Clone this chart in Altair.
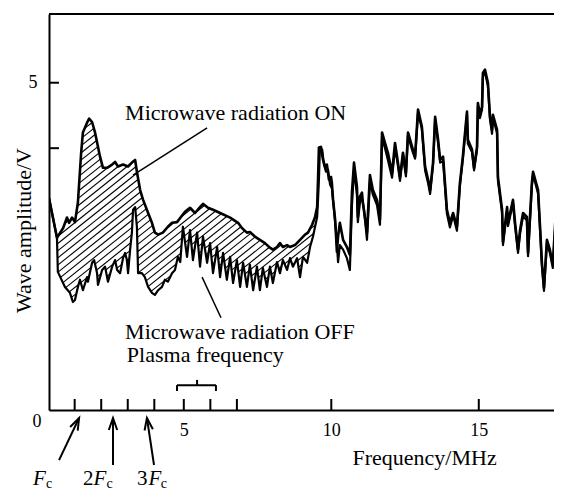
import math
import altair as alt
import numpy as np
import pandas as pd

FONT = "Liberation Serif"

# (frequency / MHz, amplitude / V)
on_points = [
    (0.43, 3.24), (0.70, 2.63), (0.91, 2.78), (1.04, 2.94), (1.11, 2.86), (1.21, 2.94),
    (1.31, 2.87), (1.41, 3.17), (1.52, 3.93), (1.58, 4.24), (1.72, 4.39), (1.79, 4.45),
    (1.89, 4.40), (1.99, 4.24), (2.16, 3.87), (2.26, 3.70), (2.40, 3.70), (2.57, 3.75),
    (2.67, 3.79), (2.77, 3.72), (2.94, 3.75), (3.11, 3.72), (3.24, 3.78), (3.35, 3.82),
    (3.41, 3.64), (3.52, 3.36), (3.62, 3.21), (3.79, 3.01), (3.92, 2.86), (4.02, 2.71),
    (4.13, 2.68), (4.29, 2.71), (4.46, 2.80), (4.60, 2.86), (4.77, 2.87), (5.04, 3.03),
    (5.21, 3.09), (5.38, 3.01), (5.55, 3.10), (5.65, 3.15), (5.82, 3.09), (5.99, 3.06),
    (6.23, 3.01), (6.57, 2.94), (6.84, 2.86), (6.97, 2.78), (7.14, 2.71), (7.24, 2.72),
    (7.41, 2.65), (7.58, 2.60), (7.75, 2.55), (7.92, 2.48), (8.02, 2.45), (8.16, 2.49),
    (8.26, 2.55), (8.36, 2.49), (8.50, 2.52), (8.60, 2.49), (8.77, 2.52), (8.94, 2.60),
    (9.11, 2.68), (9.21, 2.71), (9.35, 2.83), (9.45, 2.95), (9.52, 3.10), (9.55, 3.52),
    (9.58, 4.01), (9.65, 4.02), (9.72, 3.82), (9.79, 3.72), (9.85, 3.75), (9.92, 3.52),
    (9.99, 3.56), (10.02, 3.47), (10.06, 3.21), (10.13, 2.91), (10.19, 2.42), (10.23, 2.65),
    (10.29, 2.86), (10.40, 2.60), (10.53, 2.49), (10.63, 2.37), (10.70, 3.32), (10.77, 3.78),
    (10.87, 3.41), (10.90, 2.95), (10.97, 3.26), (11.04, 3.32), (11.07, 3.17), (11.21, 2.71),
    (11.31, 3.59), (11.41, 3.36), (11.55, 3.21), (11.65, 2.91), (11.72, 4.24), (11.82, 4.08),
    (11.92, 3.93), (12.06, 3.62), (12.16, 4.08), (12.23, 3.87), (12.33, 3.56), (12.43, 3.93),
    (12.53, 3.62), (12.60, 4.24), (12.74, 4.02), (12.84, 3.87), (12.94, 4.59), (13.07, 4.33),
    (13.18, 3.72), (13.28, 3.52), (13.35, 3.36), (13.45, 3.78), (13.52, 4.48), (13.62, 4.13),
    (13.69, 3.82), (13.79, 3.87), (13.92, 3.06), (14.02, 2.86), (14.13, 3.01), (14.26, 2.80),
    (14.36, 3.47), (14.46, 3.87), (14.60, 4.56), (14.63, 4.13), (14.77, 3.98), (14.84, 3.70),
    (14.94, 4.02), (14.97, 4.69), (15.04, 4.51), (15.11, 4.63), (15.14, 5.15), (15.21, 5.20),
    (15.31, 5.00), (15.38, 4.48), (15.45, 4.28), (15.48, 4.51), (15.62, 4.28), (15.65, 3.56),
    (15.79, 3.06), (15.82, 2.57), (15.96, 3.10), (15.99, 2.86), (16.16, 3.21), (16.23, 2.86),
    (16.33, 2.45), (16.40, 2.75), (16.50, 3.01), (16.63, 2.95), (16.67, 2.40), (16.80, 3.47),
    (16.84, 3.64), (17.01, 3.36), (17.07, 2.86), (17.14, 2.25), (17.21, 1.87), (17.31, 2.60),
    (17.41, 2.45), (17.51, 2.22), (17.65, 3.32),
]

off_points = [
    (0.43, 3.24), (0.70, 2.63), (0.73, 2.11), (0.97, 1.88), (1.14, 1.79), (1.24, 1.65),
    (1.31, 1.68), (1.41, 1.88), (1.48, 1.99), (1.58, 1.83), (1.72, 2.03), (1.75, 1.96),
    (1.89, 2.25), (1.96, 2.29), (2.06, 2.09), (2.09, 1.91), (2.23, 2.14), (2.33, 2.19),
    (2.43, 1.96), (2.57, 2.19), (2.67, 2.29), (2.74, 2.14), (2.84, 2.09), (2.94, 2.32),
    (3.01, 2.40), (3.07, 2.29), (3.11, 2.09), (3.18, 2.45), (3.24, 2.71), (3.28, 3.06),
    (3.35, 3.10), (3.41, 2.80), (3.45, 2.09), (3.58, 2.09), (3.68, 2.03), (3.79, 1.88),
    (3.92, 1.79), (4.02, 1.76), (4.13, 1.83), (4.26, 1.88), (4.36, 1.99), (4.46, 1.96),
    (4.60, 2.09), (4.70, 2.14), (4.80, 2.34), (4.88, 2.26), (4.97, 2.80), (5.11, 2.34),
    (5.21, 2.75), (5.31, 2.29), (5.45, 2.71), (5.55, 2.19), (5.65, 2.65), (5.79, 2.25),
    (5.89, 2.55), (5.99, 2.09), (6.13, 2.49), (6.23, 2.03), (6.33, 2.40), (6.46, 1.99),
    (6.57, 2.34), (6.67, 1.94), (6.80, 2.29), (6.91, 1.88), (7.01, 2.25), (7.14, 1.88),
    (7.24, 2.22), (7.35, 1.83), (7.48, 2.19), (7.58, 1.83), (7.68, 2.17), (7.82, 1.88),
    (7.92, 2.19), (8.02, 1.94), (8.16, 2.26), (8.26, 2.09), (8.36, 2.29), (8.50, 2.14),
    (8.60, 2.32), (8.70, 2.19), (8.84, 2.32), (8.94, 2.03), (9.04, 2.34), (9.18, 2.25),
    (9.28, 2.49), (9.38, 2.65), (9.52, 2.95), (9.55, 3.21), (9.58, 3.52), (9.61, 3.94),
    (9.69, 3.98), (9.75, 3.75), (9.82, 3.64), (9.89, 3.67), (9.96, 3.44), (10.02, 3.39),
    (10.09, 3.06), (10.16, 2.72), (10.23, 2.26), (10.29, 2.52), (10.40, 2.45), (10.53, 2.32),
    (10.63, 2.14), (10.70, 3.13), (10.77, 3.67), (10.87, 3.29), (10.90, 2.87), (10.97, 3.17),
    (11.04, 3.24), (11.11, 3.06), (11.21, 2.60), (11.31, 3.49), (11.41, 3.29), (11.55, 3.13),
    (11.65, 2.83), (11.72, 4.16), (11.82, 4.00), (11.92, 3.82), (12.06, 3.55), (12.16, 4.00),
    (12.23, 3.82), (12.33, 3.50), (12.43, 3.90), (12.53, 3.57), (12.60, 4.20), (12.74, 3.97),
    (12.84, 3.84), (12.94, 4.54), (13.07, 4.30), (13.18, 3.66), (13.28, 3.47), (13.35, 3.30),
    (13.45, 3.75), (13.52, 4.44), (13.62, 4.08), (13.69, 3.78), (13.79, 3.80), (13.92, 3.00),
    (14.02, 2.79), (14.13, 2.97), (14.26, 2.74), (14.36, 3.42), (14.46, 3.83), (14.60, 4.52),
    (14.63, 4.07), (14.77, 3.94), (14.84, 3.66), (14.94, 3.97), (14.97, 4.65), (15.04, 4.46),
    (15.11, 4.59), (15.14, 5.10), (15.21, 5.16), (15.31, 4.95), (15.38, 4.44), (15.45, 4.22),
    (15.48, 4.47), (15.62, 4.23), (15.65, 3.50), (15.79, 3.01), (15.82, 2.52), (15.96, 3.05),
    (15.99, 2.81), (16.16, 3.16), (16.23, 2.81), (16.33, 2.40), (16.40, 2.70), (16.50, 2.96),
    (16.63, 2.90), (16.67, 2.35), (16.80, 3.42), (16.84, 3.60), (17.01, 3.31), (17.07, 2.81),
    (17.14, 2.20), (17.21, 1.82), (17.31, 2.55), (17.41, 2.40), (17.51, 2.17), (17.65, 3.27),
]

x_tick_values = [1.3, 2.2, 3.1, 4.0, 5.0, 5.9, 6.8, 10, 15]
x_label_values = [5, 10, 15]
y_tick_values = [4, 5]
y_label_values = [5]

X_DOMAIN = [0.43, 17.55]
Y_DOMAIN = [0.0, 6.05]
W, H = 505, 396

xs = alt.Scale(domain=X_DOMAIN, nice=False, zero=False)
ys = alt.Scale(domain=Y_DOMAIN, nice=False, zero=False)

on_df = pd.DataFrame(on_points, columns=["f", "v"])
off_df = pd.DataFrame(off_points, columns=["f", "v"])

# ---- hatching between the two curves (ON above, OFF below) ----
HATCH_FROM, HATCH_TO = 0.70, 9.55
HATCH_SLOPE = 0.36   # V per MHz
HATCH_STEP = 0.11    # V between hatch lines
grid = np.arange(HATCH_FROM, HATCH_TO, 0.003)
hi = np.interp(grid, on_df.f, on_df.v)
lo = np.interp(grid, off_df.f, off_df.v)
segs = []
for a in np.arange(lo.min() - HATCH_SLOPE * HATCH_TO, hi.max() - HATCH_SLOPE * HATCH_FROM, HATCH_STEP):
    line = a + HATCH_SLOPE * grid
    inside = ((line >= lo) & (line <= hi)).astype(int)
    edges = np.flatnonzero(np.diff(np.concatenate([[0], inside, [0]])))
    for s, e in zip(edges[::2], edges[1::2]):
        if e - s < 2:
            continue
        segs.append({"f1": grid[s], "v1": line[s], "f2": grid[e - 1], "v2": line[e - 1]})
hatch_df = pd.DataFrame(segs)

# ---- annotation geometry (data units) ----
leaders = pd.DataFrame([(5.79, 4.31, 3.28, 3.59), (5.62, 2.03, 6.26, 1.41)],
                       columns=["f1", "v1", "f2", "v2"])
bracket = pd.DataFrame([(4.77, 0.38, 6.09, 0.38), (4.77, 0.38, 4.77, 0.29),
                        (6.09, 0.38, 6.09, 0.29), (5.45, 0.38, 5.45, 0.46)],
                       columns=["f1", "v1", "f2", "v2"])
arrows = pd.DataFrame([(0.77, -0.765, 1.45, -0.122), (2.6, -0.84, 2.6, -0.122),
                       (3.99, -0.84, 3.75, -0.122)], columns=["f1", "v1", "f2", "v2"])
kx = W / (X_DOMAIN[1] - X_DOMAIN[0])
ky = H / (Y_DOMAIN[1] - Y_DOMAIN[0])
arrows["ang"] = [math.degrees(math.atan2((r.f2 - r.f1) * kx, (r.v2 - r.v1) * ky)) % 360
                 for r in arrows.itertuples()]

big_texts = pd.DataFrame({
    "txt": ["Microwave radiation ON", "Microwave radiation OFF", "Plasma frequency"],
    "f": [3.01, 3.01, 3.07], "v": [4.43, 1.086, 0.734]})
zero_text = pd.DataFrame({"txt": ["0"], "f": [0.02], "v": [-0.26]})
num_texts = pd.DataFrame({"txt": ["2", "3"], "f": [1.58, 3.41], "v": [-1.15, -1.15]})
f_texts = pd.DataFrame({"txt": ["F", "F", "F"], "f": [-0.11, 1.94, 3.80], "v": [-1.15] * 3})
c_texts = pd.DataFrame({"txt": ["c", "c", "c"], "f": [0.33, 2.38, 4.22], "v": [-1.19] * 3})

x_axis = alt.Axis(values=x_label_values, ticks=False, tickSize=0, grid=False,
                  labelFont=FONT, labelFontSize=18, labelColor="black",
                  labelPadding=25, labelBaseline="alphabetic",
                  domainColor="black", domainWidth=2,
                  title="Frequency/MHz", titleFont=FONT, titleFontSize=22,
                  titleFontWeight="normal", titleColor="black",
                  titleAlign="left", titleBaseline="alphabetic", titleX=303, titleY=54)
y_axis = alt.Axis(values=y_label_values, ticks=False, tickSize=0, grid=False,
                  labelFont=FONT, labelFontSize=18, labelColor="black",
                  labelPadding=12, labelAlign="right", labelBaseline="middle",
                  domainColor="black", domainWidth=2,
                  title="Wave amplitude/V", titleFont=FONT, titleFontSize=22,
                  titleFontWeight="normal", titleColor="black", titleAngle=270,
                  titleAlign="center", titleBaseline="alphabetic", titleX=-19, titleY=216)


def X(field):
    return alt.X(field, scale=xs, axis=x_axis)


def Y(field):
    return alt.Y(field, scale=ys, axis=y_axis)


def seg_layer(df, width):
    return alt.Chart(df).mark_rule(color="black", strokeWidth=width).encode(
        x=X("f1:Q"), y=Y("v1:Q"), x2="f2:Q", y2="v2:Q")


def text_layer(df, size, style="normal", align="left"):
    return alt.Chart(df).mark_text(font=FONT, fontSize=size, fontStyle=style, align=align,
                                   baseline="alphabetic", color="black").encode(
        x=X("f:Q"), y=Y("v:Q"), text="txt:N")


hatch = seg_layer(hatch_df, 1.1)
off_line = alt.Chart(off_df).mark_line(color="black", strokeWidth=2.2, clip=True,
                                       strokeJoin="round").encode(x=X("f:Q"), y=Y("v:Q"))
on_line = alt.Chart(on_df).mark_line(color="black", strokeWidth=2.6, clip=True,
                                     strokeJoin="round").encode(x=X("f:Q"), y=Y("v:Q"))

x_ticks = alt.Chart(pd.DataFrame({"t": x_tick_values})).mark_rule(
    color="black", strokeWidth=2).encode(x=X("t:Q"), y=alt.value(H), y2=alt.value(H - 11))
y_ticks = alt.Chart(pd.DataFrame({"t": y_tick_values})).mark_rule(
    color="black", strokeWidth=2).encode(y=Y("t:Q"), x=alt.value(0), x2=alt.value(10))
top_line = alt.Chart(pd.DataFrame({"k": [0]})).mark_rule(
    color="black", strokeWidth=2).encode(y=alt.value(0))

heads = alt.Chart(arrows).mark_point(shape="M-0.35,1L0,0L0.35,1", filled=False,
                                     size=576, strokeWidth=2, color="black", opacity=1).encode(
    x=X("f2:Q"), y=Y("v2:Q"), angle=alt.Angle("ang:Q", scale=None))

chart = alt.layer(
    hatch, off_line, on_line, x_ticks, y_ticks, top_line,
    seg_layer(leaders, 1.5), seg_layer(bracket, 2), seg_layer(arrows, 2), heads,
    text_layer(big_texts, 22), text_layer(zero_text, 18, align="center"),
    text_layer(num_texts, 21), text_layer(f_texts, 21, style="italic"),
    text_layer(c_texts, 14),
).properties(
    width=W, height=H,
    autosize=alt.AutoSizeParams(type="none"),
    padding={"left": 41, "top": 6, "right": 0, "bottom": 80},
).configure_view(stroke=None)

chart.save("out.html", embed_options={"renderer": "svg", "actions": False})
